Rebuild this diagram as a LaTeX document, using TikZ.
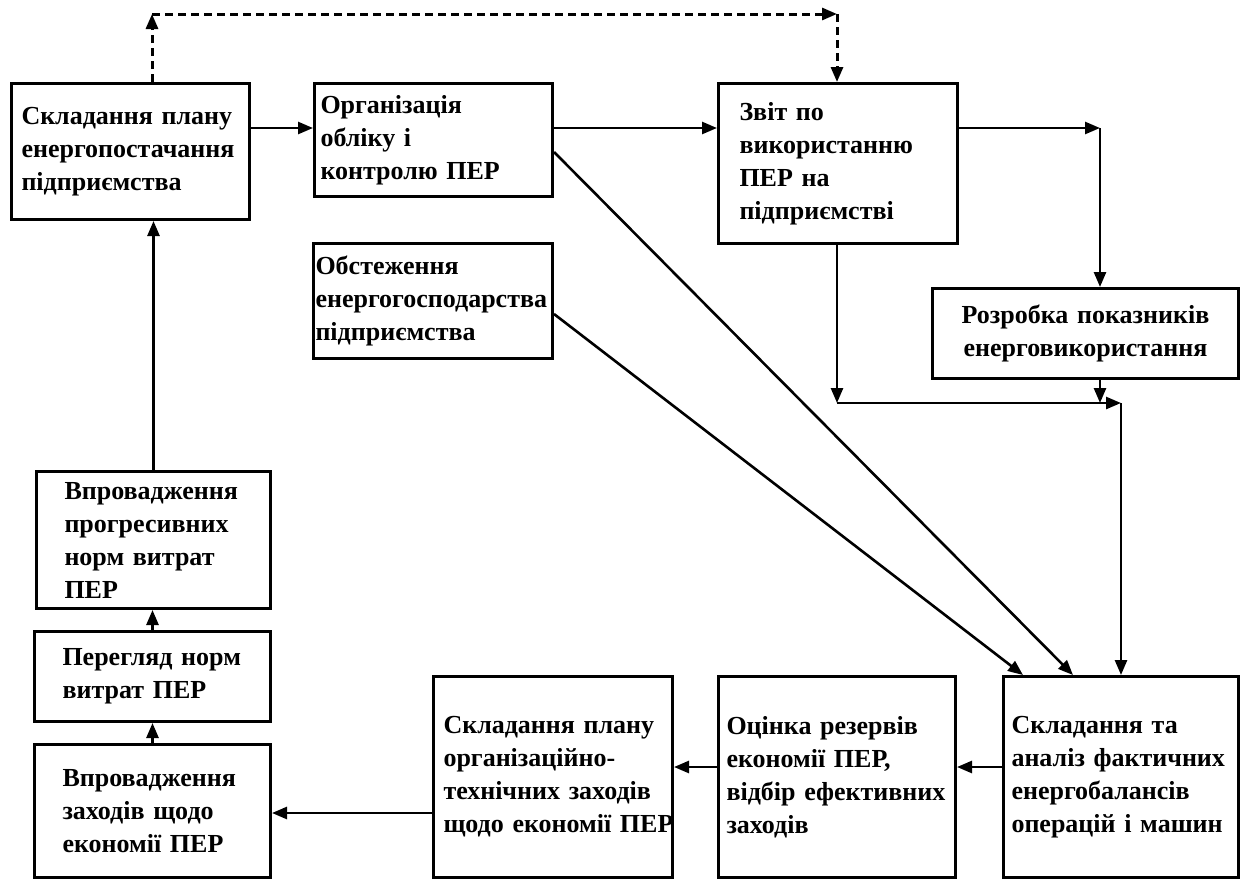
\documentclass[tikz,border=0pt]{standalone}
\usepackage{fontspec}
\setmainfont{Liberation Serif}
\usetikzlibrary{arrows.meta}
\begin{document}
\begin{tikzpicture}[x=1pt,y=-1pt,
    blok/.style={draw,line width=3pt,anchor=north west,align=left,inner ysep=0pt,font=\fontsize{26}{33}\selectfont\bfseries},
    strilka/.style={line width=2.6pt,-{Triangle[length=15pt,width=12pt]}},
    punktyr/.style={strilka,line width=3pt,dash pattern=on 8pt off 5pt}]
\useasboundingbox (0,0) rectangle (1245,881);
\node[blok,minimum height=136pt,inner xsep=10pt,text width=218pt] (plan) at (10,82) {Складання~плану\\енергопостачання\\підприємства};
\node[blok,minimum height=113pt,inner xsep=6pt,text width=226pt] (oblik) at (313,82) {Організація\\обліку~і\\контролю~ПЕР};
\node[blok,minimum height=160pt,inner xsep=21pt,text width=197pt] (zvit) at (717,82) {Звіт~по\\використанню\\ПЕР~на\\підприємстві};
\node[blok,minimum height=115pt,inner xsep=2pt,text width=235pt] (obst) at (312,242) {Обстеження\\енергогосподарства\\підприємства};
\node[blok,minimum height=90pt,inner xsep=5pt,text width=296pt,align=center] (rozr) at (931,287) {Розробка~показників\\енерговикористання};
\node[blok,minimum height=137pt,inner xsep=28pt,text width=178pt] (vprnorm) at (35,470) {Впровадження\\прогресивних\\норм~витрат\\ПЕР};
\node[blok,minimum height=90pt,inner xsep=28pt,text width=180pt] (perehl) at (33,630) {Перегляд~норм\\витрат~ПЕР};
\node[blok,minimum height=133pt,inner xsep=28pt,text width=180pt] (vprzah) at (33,743) {Впровадження\\заходів~щодо\\економії~ПЕР};
\node[blok,minimum height=201pt,inner xsep=10pt,text width=219pt] (planorg) at (432,675) {Складання~плану\\організаційно-\\технічних~заходів\\щодо~економії~ПЕР};
\node[blok,minimum height=201pt,inner xsep=8pt,text width=221pt] (otsinka) at (717,675) {Оцінка~резервів\\економії~ПЕР,\\відбір~ефективних\\заходів};
\node[blok,minimum height=201pt,inner xsep=8pt,text width=219pt] (balans) at (1002,675) {Складання~та\\аналіз~фактичних\\енергобалансів\\операцій~і~машин};
\coordinate (d1) at (152,14);
\coordinate (d2) at (837,14);
\coordinate (r1) at (0,128);
\coordinate (k1) at (1100,128);
\coordinate (k2) at (837,403);
\coordinate (k3) at (1121,403);
\coordinate (k4) at (1100,403);
\coordinate (r2) at (0,767);
\coordinate (r3) at (0,813);
\draw[punktyr] (plan.north -| d1) -- (d1);
\draw[punktyr] (d1) -- (d2);
\draw[punktyr] (d2) -- (zvit.north -| d2);
\draw[strilka] (plan.east |- r1) -- (oblik.west |- r1);
\draw[strilka] (oblik.east |- r1) -- (zvit.west |- r1);
\draw[strilka] (zvit.east |- r1) -- (k1);
\draw[strilka] (k1) -- (rozr.north -| k1);
\draw[strilka] (zvit.south -| k2) -- (k2);
\draw[strilka] (k2) -- (k3);
\draw[strilka] (rozr.south -| k4) -- (k4);
\draw[strilka] (k3) -- (balans.north -| k3);
\draw[strilka] ([yshift=-12pt]oblik.east) -- ([xshift=-48pt]balans.north);
\draw[strilka] ([yshift=-13pt]obst.east) -- ([xshift=-98pt]balans.north);
\draw[strilka] (balans.west |- r2) -- (otsinka.east |- r2);
\draw[strilka] (otsinka.west |- r2) -- (planorg.east |- r2);
\draw[strilka] (planorg.west |- r3) -- (vprzah.east |- r3);
\draw[strilka] (vprzah.north) -- (perehl.south);
\draw[strilka] (perehl.north) -- (perehl.north |- vprnorm.south);
\draw[strilka] (vprnorm.north) -- (vprnorm.north |- plan.south);
\end{tikzpicture}
\end{document}
